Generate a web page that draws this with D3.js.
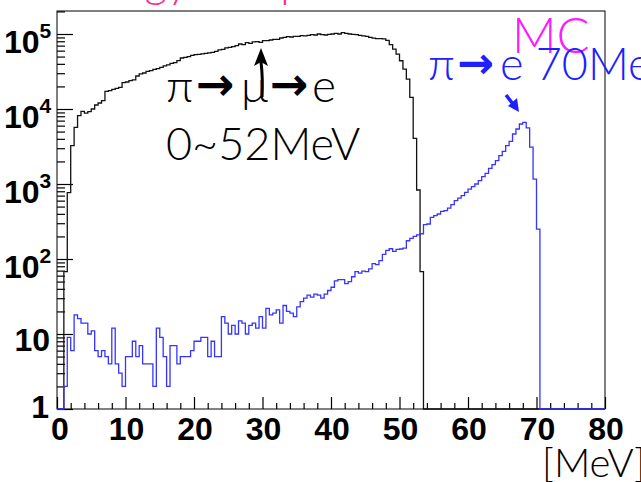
<!DOCTYPE html>
<html><head><meta charset="utf-8">
<script src="https://cdn.jsdelivr.net/npm/d3@7"></script>
<style>html,body{margin:0;padding:0;background:#fff;overflow:hidden}svg{display:block}</style>
</head><body>
<script>
// ---- data (0.5 MeV bins from 0 to 80 MeV) ----
const binWidth = 0.5;
const blackCounts = [
0,0,68,766,3240,5690,8150,9290,8800,9200,
10000,11300,12020,12910,17220,17580,18280,18880,19450,22440,
22910,23880,24380,27540,29310,30200,31770,32460,33810,34510,
35970,37500,38640,40640,41500,44150,47860,48870,49890,52000,
53090,53580,54200,55210,55850,57020,58750,61240,62520,65160,
66370,67770,69980,73620,72110,76740,75160,78340,79070,77450,
81470,81470,83180,84920,84920,88510,90360,92260,91200,93110,
93110,95060,94190,95940,97950,97050,100000,97950,97050,99080,
100000,102100,100000,104200,102100,100000,99080,97950,95940,94190,
93110,90360,88000,87000,86700,86000,82000,72000,63000,54000,
44000,34000,25000,14300,4055,832,68,0,0,0,
0,0,0,0,0,0,0,0,0,0,
0,0,0,0,0,0,0,0,0,0,
0,0,0,0,0,0,0,0,0,0,
0,0,0,0,0,0,0,0,0,0,
0,0,0,0,0,0,0,0,0,0
];
const blueCounts = [
0,0,2,9,6,18,16,14,14,10,
11,6,5,6,5,4,12,4,3,2,
5,5,8,5,7,4,4,4,2,12,
9,5,2,7,7,4,5,5,5,6,
8,8,9,9,5,8,5,5,17,14,
10,13,10,15,14,10,13,14,12,17,
12,22,18,19,21,14,24,20,19,17,
23,27,30,33,31,34,33,30,34,38,
42,51,53,53,47,50,58,68,65,69,
68,74,87,84,95,115,130,137,126,134,
136,140,175,188,200,210,217,287,293,359,
378,398,432,441,478,530,600,650,698,774,
857,921,1000,1107,1252,1387,1617,1811,2046,2387,
2725,3243,3705,4641,5410,6310,6640,5600,3100,1160,
250,0,0,0,0,0,0,0,0,0,
0,0,0,0,0,0,0,0,0,0
];
const xMajorTicks = [0,10,20,30,40,50,60,70,80];
const xMinorTicks = [2,4,6,8,12,14,16,18,22,24,26,28,32,34,36,38,42,44,46,48,52,54,56,58,62,64,66,68,72,74,76,78];
const yDecades = [1,10,100,1000,10000,100000];
const yDecadeLabels = [["1",""],["10",""],["10","2"],["10","3"],["10","4"],["10","5"]];
const xTitle = "[MeV]";
const blackLabel1 = ["π","→","μ","→","e"];
const blackLabel2 = "0~52MeV";
const blueLabel = ["π","→","e 70MeV"];
const mcLabel = "MC";
const titleText = "Energy comparison";

// ---- layout ----
const W = 641, H = 482;
const L = 57, R = 605, T = 11, B = 409;
const svg = d3.select("body").append("svg").attr("width", W).attr("height", H);

const x = d3.scaleLinear().domain([0, 80]).range([L, R]);
const y = d3.scaleLog().domain([1, Math.pow(10, (B - T) / 75)]).range([B, T]);

const boldFont = "'Liberation Sans', Arial, Helvetica, sans-serif";
const lightFont = "Lato, 'Liberation Sans', sans-serif";
const arrowFont = "'DejaVu Sans', sans-serif";

// title fragment (cut at top)
svg.append("text").attr("x", 58).attr("y", -3)
  .attr("font-family", lightFont).attr("font-weight", 300).attr("font-size", 44)
  .attr("fill", "#ff2a90").text(titleText);

// frame
svg.append("rect").attr("x", L).attr("y", T).attr("width", R - L).attr("height", B - T)
  .attr("fill", "none").attr("stroke", "#000").attr("stroke-width", 1);

// x axis ticks (inside)
const gx = svg.append("g").attr("transform", `translate(0,${B})`);
gx.call(d3.axisBottom(x).tickValues(xMajorTicks).tickSize(-12).tickFormat(""));
const gxm = svg.append("g").attr("transform", `translate(0,${B})`);
gxm.call(d3.axisBottom(x).tickValues(xMinorTicks).tickSize(-6).tickFormat(""));
[gx, gxm].forEach(g => { g.select(".domain").remove(); g.selectAll("line").attr("stroke", "#000").attr("stroke-width", 1.2); });

// y axis ticks (inside)
const yMinor = [];
for (let d = 1; d < 1e5 * 3; d *= 10) for (let k = 2; k <= 9; k++) if (d * k < y.domain()[1]) yMinor.push(d * k);
const gy = svg.append("g").attr("transform", `translate(${L},0)`);
gy.call(d3.axisLeft(y).tickValues(yDecades).tickSize(-16).tickFormat(""));
const gym = svg.append("g").attr("transform", `translate(${L},0)`);
gym.call(d3.axisLeft(y).tickValues(yMinor).tickSize(-8).tickFormat(""));
[gy, gym].forEach(g => { g.select(".domain").remove(); g.selectAll("line").attr("stroke", "#000").attr("stroke-width", 1.2); });

// x labels
svg.append("g").selectAll("text").data(xMajorTicks).join("text")
  .attr("x", d => x(d) + (d === 0 ? 3 : 1)).attr("y", 440)
  .attr("text-anchor", "middle").attr("font-family", boldFont).attr("font-weight", "bold")
  .attr("font-size", 32).attr("fill", "#000").text(d => d);

// y labels
yDecades.forEach((v, i) => {
  const [base, sup] = yDecadeLabels[i];
  const t = svg.append("text").attr("font-family", boldFont).attr("font-weight", "bold").attr("fill", "#000");
  if (sup) {
    t.attr("x", 4).attr("y", y(v) + 19).attr("font-size", 32);
    t.append("tspan").text(base);
    t.append("tspan").attr("font-size", 21).attr("dy", -15).text(sup);
  } else if (base === "10") {
    t.attr("x", 50).attr("y", y(v) + 17).attr("text-anchor", "end").attr("font-size", 32).text(base);
  } else {
    t.attr("x", 49).attr("y", y(v) + 9).attr("text-anchor", "end").attr("font-size", 32).text(base);
  }
});

// histograms
const clip = svg.append("clipPath").attr("id", "plotclip");
clip.append("rect").attr("x", L).attr("y", T).attr("width", R - L).attr("height", B - T + 1);
function histPath(counts) {
  const yy = c => (c > 0 ? y(c) : B);
  let p = d3.path();
  p.moveTo(x(0), yy(counts[0]));
  counts.forEach((c, i) => {
    p.lineTo(x(i * binWidth), yy(c));
    p.lineTo(x((i + 1) * binWidth), yy(c));
  });
  return p.toString();
}
const hg = svg.append("g").attr("clip-path", "url(#plotclip)");
hg.append("path").attr("d", histPath(blackCounts)).attr("fill", "none")
  .attr("stroke", "#111").attr("stroke-width", 1.3);
hg.append("path").attr("d", histPath(blueCounts)).attr("fill", "none")
  .attr("stroke", "#3535ff").attr("stroke-width", 1.3);

// black annotation
const blackXs = [166, 196, 241, 270, 312];
blackLabel1.forEach((s, i) => {
  const arrow = s === "→";
  svg.append("text").attr("x", blackXs[i]).attr("y", arrow ? 100 : 102)
    .attr("font-family", arrow ? arrowFont : lightFont)
    .attr("font-weight", arrow ? "bold" : 300)
    .attr("font-size", 46).attr("fill", "#000").text(s);
});
svg.append("text").attr("x", 166).attr("y", 160).attr("font-family", lightFont).attr("font-weight", 300)
  .attr("font-size", 45).attr("fill", "#000").text(blackLabel2);
// upward arrow from mu
svg.append("path").attr("d", "M262,97 Q263,78 261,62").attr("fill", "none").attr("stroke", "#000").attr("stroke-width", 3);
svg.append("path").attr("d", "M261,48 L268,66 L261,62 L254,66 Z").attr("fill", "#000");

// MC label
svg.append("text").attr("x", 512).attr("y", 53).attr("font-family", lightFont).attr("font-weight", 300)
  .attr("font-size", 49).attr("fill", "#ff1aff").text(mcLabel);

// blue annotation
const blueXs = [428, 457, 500];
blueLabel.forEach((s, i) => {
  const arrow = s === "→";
  svg.append("text").attr("x", blueXs[i]).attr("y", arrow ? 78 : 80)
    .attr("font-family", arrow ? arrowFont : lightFont)
    .attr("font-weight", arrow ? "bold" : 300)
    .attr("font-size", arrow ? 44 : 45).attr("fill", "#2020ff").text(s);
});
svg.append("path").attr("d", "M506,95 L513,104").attr("stroke", "#2020ff").attr("stroke-width", 3.5);
svg.append("path").attr("d", "M519,112 L508,106 L517,98 Z").attr("fill", "#2020ff");

// x title
svg.append("text").attr("x", 542).attr("y", 477).attr("font-family", lightFont).attr("font-weight", 300)
  .attr("font-size", 40).attr("fill", "#000").text(xTitle);
</script>
</body></html>
